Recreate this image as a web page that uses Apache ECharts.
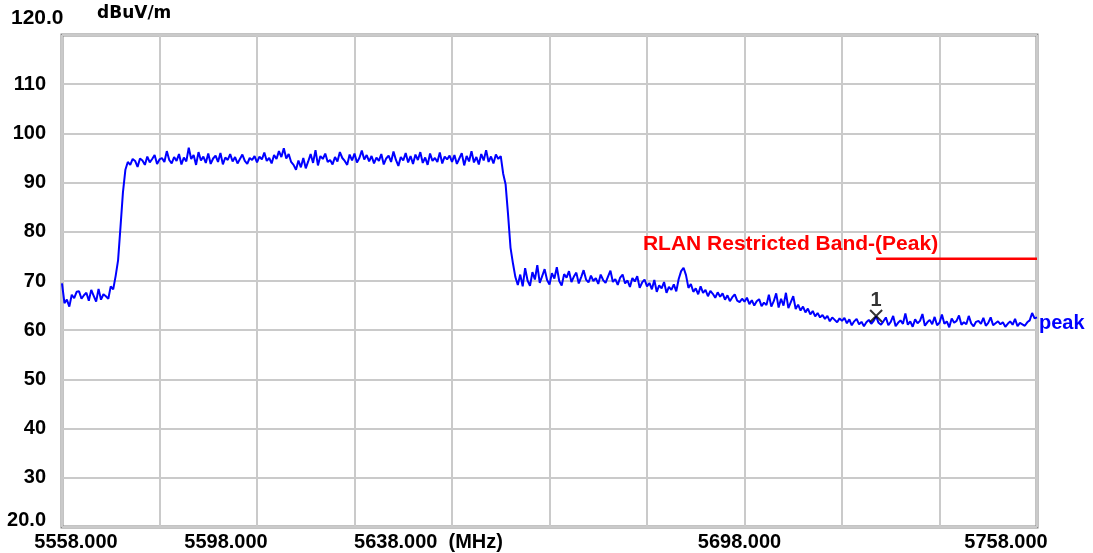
<!DOCTYPE html>
<html>
<head>
<meta charset="utf-8">
<script src="https://cdn.jsdelivr.net/npm/echarts@6/dist/echarts.min.js"></script>
<style>
html,body{margin:0;padding:0;background:#fff;}
#chart{width:1093px;height:553px;}
</style>
</head>
<body>
<div id="chart"></div>
<script>
// ---- data ----
const freqStart = 5558;      // MHz, first trace sample
const freqStep = 0.5;        // MHz between trace samples
const traceLevels = [
  69.5, 65.5, 66.2, 64.8, 67.2, 66.5, 67.8, 67.9, 66.4, 67.1,
  67.6, 66.0, 68.2, 67.0, 65.8, 68.4, 66.2, 67.3, 66.9, 66.4,
  68.9, 68.3, 71.0, 74.2, 81.0, 88.0, 92.6, 94.2, 93.6, 94.8,
  94.4, 93.2, 94.9, 94.5, 93.6, 95.3, 94.1, 94.8, 95.6, 93.8,
  94.7, 95.0, 94.2, 96.4, 94.6, 93.9, 95.2, 94.4, 95.8, 93.7,
  95.1, 94.3, 97.1, 94.8, 95.6, 93.6, 96.2, 94.5, 95.3, 94.0,
  95.9, 93.8, 94.9, 95.5, 94.2, 96.0, 93.7, 95.1, 94.6, 95.8,
  94.3, 95.2, 93.9, 94.8, 95.7, 94.4, 93.8, 95.0, 94.6, 95.4,
  94.1, 95.3, 94.7, 96.1, 94.4, 95.0, 93.9, 95.6, 94.8, 96.4,
  95.2, 97.0, 94.9, 95.8, 94.2, 93.6, 92.6, 94.5, 93.1, 95.0,
  92.9, 94.3, 95.8, 94.0, 96.6, 93.5, 95.4, 94.8, 95.9, 94.2,
  94.6, 93.7, 95.2, 94.3, 96.2, 95.0, 94.4, 93.6, 95.7, 94.5,
  95.9, 94.1, 95.0, 96.5, 94.7, 95.6, 94.3, 95.4, 93.9, 95.1,
  94.4, 95.8, 93.7, 94.9, 95.5, 94.2, 96.3, 94.6, 93.4, 95.2,
  94.5, 96.0, 94.1, 95.4, 93.8, 95.7, 94.6, 96.2, 94.0, 95.1,
  93.6, 95.9, 94.4, 95.0, 94.2, 96.1, 93.9, 95.3, 94.7, 95.5,
  94.2, 95.6, 93.8, 94.9, 96.0, 93.5, 95.4, 94.3, 96.4, 94.1,
  95.2, 93.7, 95.8, 94.5, 96.6, 94.2, 95.3, 93.9, 95.7, 94.8,
  95.4, 91.8, 89.6, 83.5, 76.8, 73.6, 70.8, 69.2, 71.3, 68.9,
  72.6, 70.1, 69.0, 71.8, 70.3, 73.2, 69.6, 71.0, 72.4, 70.2,
  69.3, 71.6, 70.5, 72.8, 70.0, 69.1, 71.4, 70.7, 72.0, 69.8,
  70.9, 71.7, 69.5, 70.8, 72.2, 70.3, 69.7, 71.1, 70.0, 70.6,
  69.4, 71.3, 70.2, 69.6, 70.9, 72.1, 69.8, 70.4, 69.2, 70.7,
  71.3, 69.5, 70.1, 68.8, 70.6, 69.9, 71.0, 68.6, 69.7, 70.3,
  68.9, 69.6, 68.3, 70.2, 67.8, 69.1, 68.5, 69.8, 67.6, 68.8,
  68.2, 69.3, 67.9, 70.4, 72.0, 72.7, 71.2, 68.6, 69.4, 67.8,
  68.5, 67.3, 68.9, 67.6, 68.2, 66.9, 68.0, 67.4, 66.6, 67.7,
  66.8, 67.5, 66.2, 67.1, 65.9, 66.7, 67.3, 66.0, 65.7, 66.4,
  65.8, 66.6, 65.3, 66.1, 65.0, 65.9, 66.3, 64.9, 65.6, 65.1,
  67.2, 64.8, 65.9, 67.5, 64.6, 66.4, 65.0, 67.6, 64.5, 65.7,
  66.9, 64.3, 65.2, 64.0, 64.8, 63.6, 64.4, 63.2, 63.9, 62.8,
  63.5, 62.6, 63.1, 62.3, 62.9, 61.8, 62.6, 62.1, 61.6, 62.4,
  61.9, 62.5, 61.4, 62.2, 61.0, 61.8, 62.3, 61.2, 61.7, 60.8,
  61.6, 62.1, 61.3, 61.9, 62.8, 61.5, 61.1, 61.8, 62.6, 61.0,
  61.7, 62.9, 60.8, 61.5, 62.0, 61.3, 63.4, 61.1, 61.8, 60.7,
  62.2, 61.4, 61.9, 63.3, 60.9, 61.6, 62.1, 61.2, 62.7, 61.0,
  61.5, 63.2, 61.3, 61.8, 60.6, 62.4, 61.5, 61.9, 63.0, 61.1,
  61.6, 61.2, 62.9, 61.4, 60.8, 61.7, 61.9, 61.3, 62.5, 60.9,
  61.5, 62.6, 61.0, 61.4, 61.8, 61.2, 61.6, 60.7, 61.3, 61.8,
  61.1, 62.3, 60.8, 61.5, 61.2, 60.9, 61.6, 62.0, 63.5, 62.4,
  62.6
];
const limitFreqs = [5725, 5758];
const limitLevels = [74.5, 74.5];
const limitName = 'RLAN Restricted Band-(Peak)';
const markerFreqs = [5725];
const markerLevels = [62.9];
const markerLabels = ['1'];
const traceName = 'peak';
const xTickLabels = {5558: '5558.000', 5598: '5598.000', 5638: '5638.000  (MHz)', 5698: '5698.000', 5758: '5758.000'};
const yUnit = 'dBuV/m';
const yTopLabel = '120.0';
const yBottomLabel = '20.0';

// ---- build ----
const traceData = traceLevels.map((v, i) => [freqStart + i * freqStep, v]);
const limitData = limitFreqs.map((f, i) => [f, limitLevels[i]]);
const markerData = markerFreqs.map((f, i) => [f, markerLevels[i]]);

const FONT = 'Liberation Sans, Arial, sans-serif';
const xRichKey = {5558: 'l28', 5598: 'r62', 5638: 'r47', 5698: 'r10', 5758: 'r62'};
const baseTxt = {fontFamily: FONT, fontSize: 20, fontWeight: 'bold', color: '#000'};

const chart = echarts.init(document.getElementById('chart'), null, {renderer: 'canvas'});
chart.setOption({
  animation: false,
  backgroundColor: '#fff',
  grid: {left: 62, right: 56, top: 35, bottom: 26, show: true, borderColor: '#888', borderWidth: 3, backgroundColor: 'transparent'},
  xAxis: {
    type: 'value', min: 5558, max: 5758, interval: 20,
    axisLine: {show: false}, axisTick: {show: false},
    splitLine: {show: true, lineStyle: {color: '#cacaca', width: 2}},
    axisLabel: {
      show: true, margin: 5, showMinLabel: true, showMaxLabel: true,
      formatter: v => xTickLabels[v] ? '{' + xRichKey[v] + '|' + xTickLabels[v] + '}' : '',
      rich: {
        l28: Object.assign({padding: [0, 0, 0, 28]}, baseTxt),
        r62: Object.assign({padding: [0, 62, 0, 0]}, baseTxt),
        r47: Object.assign({padding: [0, 47, 0, 0]}, baseTxt),
        r10: Object.assign({padding: [0, 10, 0, 0]}, baseTxt)
      }
    }
  },
  yAxis: {
    type: 'value', min: 20, max: 120, interval: 10,
    axisLine: {show: false}, axisTick: {show: false},
    splitLine: {show: true, lineStyle: {color: '#cacaca', width: 2}},
    axisLabel: {
      margin: 16, showMinLabel: true, showMaxLabel: true,
      formatter: v => v === 120 ? '' : (v === 20 ? '{b|' + yBottomLabel + '}' : '{n|' + v + '}'),
      rich: {
        n: Object.assign({}, baseTxt),
        b: Object.assign({padding: [0, 0, 14, 0]}, baseTxt)
      }
    }
  },
  graphic: [
    {type: 'text', left: 11, top: 8, style: {text: yTopLabel, font: 'bold 21px ' + FONT, fill: '#000'}},
    {type: 'text', left: 97, top: 5, style: {text: yUnit, font: 'bold 17px DejaVu Sans, sans-serif', fill: '#000'}}
  ],
  series: [
    {
      name: traceName, type: 'line', data: traceData, showSymbol: false, symbol: 'none',
      lineStyle: {color: '#0000ff', width: 2}, z: 3,
      endLabel: {show: true, formatter: traceName, color: '#0000ff', fontFamily: FONT, fontSize: 20, fontWeight: 'bold', distance: 2, offset: [0, 6]}
    },
    {
      name: limitName, type: 'line', data: limitData, symbol: 'none', showSymbol: false,
      lineStyle: {color: '#ff0000', width: 2.5}, z: 4,
      label: {show: false},
      markPoint: {
        symbol: 'circle', symbolSize: 0,
        data: [{coord: limitData[0], value: limitName}],
        label: {show: true, formatter: limitName, position: 'top', align: 'right', offset: [62, 1], color: '#ff0000', fontFamily: FONT, fontSize: 21, fontWeight: 'bold'}
      }
    },
    {
      name: 'marker', type: 'scatter', data: markerData, z: 5,
      symbol: 'path://M0,0L10,10M10,0L0,10', symbolSize: 12,
      itemStyle: {color: 'transparent', borderColor: '#000', borderWidth: 2},
      label: {show: true, position: 'top', distance: 1, offset: [0, 3], formatter: p => markerLabels[p.dataIndex], color: '#000', fontFamily: FONT, fontSize: 20, fontWeight: 'bold'}
    }
  ]
});
</script>
</body>
</html>
